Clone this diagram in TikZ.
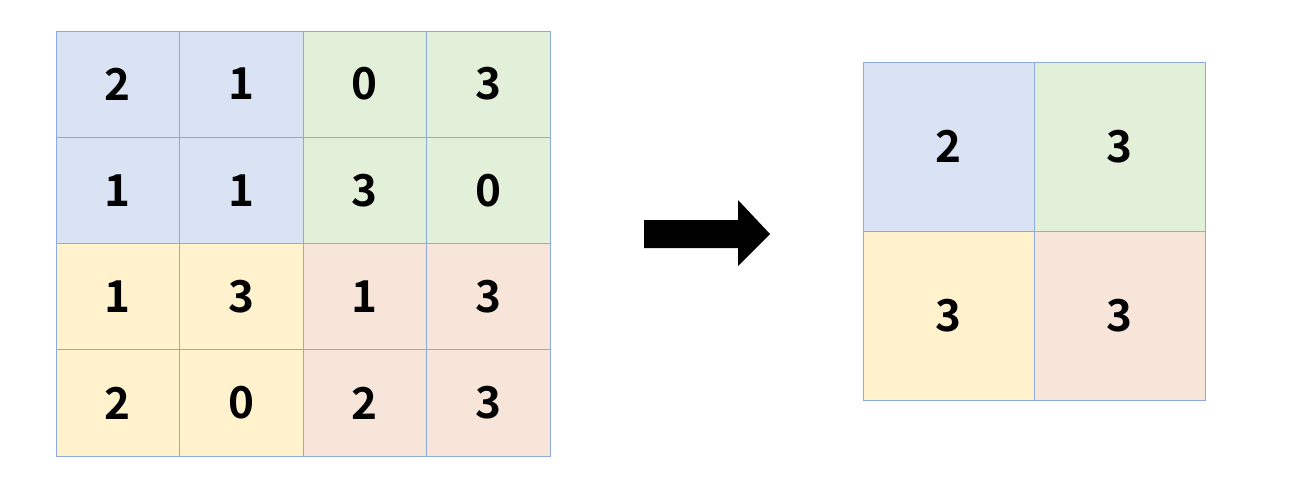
\documentclass[tikz,border=0pt]{standalone}
\usepackage{fontspec}
\setmainfont{Noto Sans CJK JP}[BoldFont={* Bold}]
\definecolor{cb}{HTML}{DAE3F3}
\definecolor{cg}{HTML}{E2F0D9}
\definecolor{cy}{HTML}{FFF2CC}
\definecolor{cr}{HTML}{F8E5DA}
\definecolor{bd}{HTML}{8FAADC}
\begin{document}
\begin{tikzpicture}[x=1pt,y=-1pt,
  cell/.style={draw=bd,line width=1pt,minimum width=#1,inner sep=0,font=\fontsize{44}{44}\bfseries\selectfont}]
\useasboundingbox (0,0) rectangle (1314,490);
\def\W{123.5}\def\H{106.25}
\foreach \r/\row in {0/{2,1,0,3},1/{1,1,3,0},2/{1,3,1,3},3/{2,0,2,3}}{
  \foreach \v [count=\c from 0] in \row {
    \pgfmathsetmacro{\x}{56+\W*\c+\W/2}
    \pgfmathsetmacro{\y}{31+\H*\r+\H/2}
    \ifnum\r<2 \ifnum\c<2 \def\fc{cb}\else\def\fc{cg}\fi
    \else \ifnum\c<2 \def\fc{cy}\else\def\fc{cr}\fi\fi
    \node[cell=\W pt,minimum height=\H pt,fill=\fc] (l\r\c) at (\x,\y) {\v};
  }
}
\foreach \r/\c/\v/\fc in {0/0/2/cb,0/1/3/cg,1/0/3/cy,1/1/3/cr}{
  \node[cell=171pt,minimum height=169pt,fill=\fc] (r\r\c) at (863+171*\c+85.5,62+169*\r+84.5) {\v};
}
\fill (644,220) -- (738,220) -- (738,200) -- (770,234) -- (738,266) -- (738,248) -- (644,248) -- cycle;
\end{tikzpicture}
\end{document}
